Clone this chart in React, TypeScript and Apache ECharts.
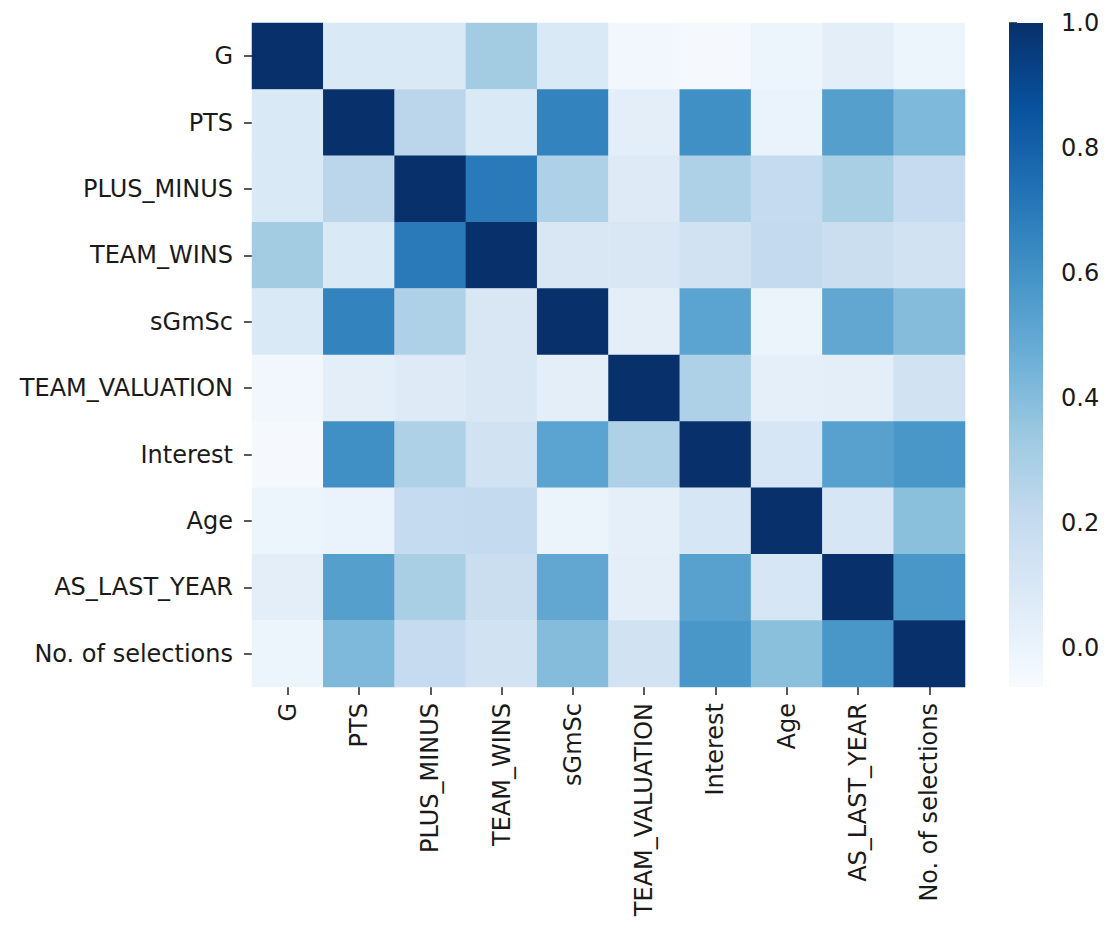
import React, { useEffect, useRef } from "react";
import * as echarts from "echarts";

const categories = [
  "G",
  "PTS",
  "PLUS_MINUS",
  "TEAM_WINS",
  "sGmSc",
  "TEAM_VALUATION",
  "Interest",
  "Age",
  "AS_LAST_YEAR",
  "No. of selections",
];

// correlation matrix rows (same order as categories)
const rowG = [1.0, 0.09, 0.09, 0.32, 0.09, -0.03, -0.05, -0.01, 0.045, -0.01];
const rowPTS = [0.09, 1.0, 0.24, 0.09, 0.66, 0.045, 0.61, 0.005, 0.54, 0.42];
const rowPM = [0.09, 0.24, 1.0, 0.7, 0.28, 0.07, 0.28, 0.205, 0.3, 0.2];
const rowTW = [0.32, 0.09, 0.7, 1.0, 0.1, 0.1, 0.14, 0.21, 0.18, 0.14];
const rowSG = [0.09, 0.66, 0.28, 0.1, 1.0, 0.045, 0.52, 0.0, 0.5, 0.4];
const rowTV = [-0.03, 0.045, 0.07, 0.1, 0.045, 1.0, 0.28, 0.04, 0.045, 0.14];
const rowInt = [-0.05, 0.61, 0.28, 0.14, 0.52, 0.28, 1.0, 0.11, 0.53, 0.58];
const rowAge = [-0.01, 0.005, 0.205, 0.21, 0.0, 0.04, 0.11, 1.0, 0.11, 0.385];
const rowAS = [0.045, 0.54, 0.3, 0.18, 0.5, 0.045, 0.53, 0.11, 1.0, 0.58];
const rowNoS = [-0.01, 0.42, 0.2, 0.14, 0.4, 0.14, 0.58, 0.385, 0.58, 1.0];

const matrix = [rowG, rowPTS, rowPM, rowTW, rowSG, rowTV, rowInt, rowAge, rowAS, rowNoS];

const colorMin = -0.063;
const colorMax = 1.0;
const colorbarTicks = [0.0, 0.2, 0.4, 0.6, 0.8, 1.0];

const blues = [
  "#f7fbff",
  "#deebf7",
  "#c6dbef",
  "#9ecae1",
  "#6baed6",
  "#4292c6",
  "#2171b5",
  "#08519c",
  "#08306b",
];

const FONT = "DejaVu Sans";
const FS = 24;

export default function App() {
  const ref = useRef<HTMLDivElement>(null);
  useEffect(() => {
    if (!ref.current) return;
    const chart = echarts.init(ref.current, null, { renderer: "svg" });
    const data: [number, number, number][] = [];
    matrix.forEach((row, yi) => {
      row.forEach((v, xi) => data.push([xi, yi, v]));
    });
    const gridL = 252, gridT = 23, gridW = 713, gridH = 664;
    const cbL = 1009, cbW = 34;
    chart.setOption({
      animation: false,
      backgroundColor: "#ffffff",
      textStyle: { fontFamily: FONT },
      grid: [
        { left: gridL, top: gridT, width: gridW, height: gridH },
        { left: cbL, top: gridT, width: cbW, height: gridH },
      ],
      xAxis: [
        {
          type: "category",
          gridIndex: 0,
          data: categories,
          position: "bottom",
          axisLine: { show: false },
          axisTick: { show: true, alignWithLabel: true, length: 8, lineStyle: { color: "#222", width: 1.5 } },
          axisLabel: { rotate: 90, margin: 16, fontSize: FS, color: "#1a1a1a", fontFamily: FONT, interval: 0 },
          splitLine: { show: false },
        },
        {
          type: "value",
          gridIndex: 1,
          show: false,
          min: 0,
          max: 1,
        },
      ],
      yAxis: [
        {
          type: "category",
          gridIndex: 0,
          data: categories,
          inverse: true,
          axisLine: { show: false },
          axisTick: { show: true, alignWithLabel: true, length: 8, lineStyle: { color: "#222", width: 1.5 } },
          axisLabel: { margin: 19, fontSize: FS, color: "#1a1a1a", fontFamily: FONT, interval: 0 },
          splitLine: { show: false },
        },
        {
          type: "value",
          gridIndex: 1,
          min: colorMin,
          max: colorMax,
          position: "right",
          axisLine: { show: false },
          splitLine: { show: false },
          axisTick: {
            show: true,
            length: 8,
            customValues: colorbarTicks,
            lineStyle: { color: "#222", width: 1.5 },
          },
          axisLabel: {
            margin: 18,
            fontSize: FS,
            color: "#1a1a1a",
            fontFamily: FONT,
            customValues: colorbarTicks,
            formatter: (v: number) => v.toFixed(1),
          },
        },
      ],
      visualMap: {
        show: false,
        type: "continuous",
        min: colorMin,
        max: colorMax,
        seriesIndex: 0,
        inRange: { color: blues },
      },
      graphic: [
        {
          type: "rect",
          shape: { x: cbL, y: gridT, width: cbW, height: gridH },
          style: {
            fill: new echarts.graphic.LinearGradient(
              0,
              0,
              0,
              1,
              blues
                .slice()
                .reverse()
                .map((c, i) => ({ offset: i / (blues.length - 1), color: c }))
            ),
          },
          z: 10,
        },
      ],
      series: [
        {
          type: "heatmap",
          xAxisIndex: 0,
          yAxisIndex: 0,
          data,
          itemStyle: { borderWidth: 0 },
          emphasis: { disabled: true },
        },
      ],
    });
    return () => chart.dispose();
  }, []);
  return (
    <div
      ref={ref}
      style={{ position: "absolute", left: 0, top: 0, width: 1112, height: 944, background: "#fff" }}
    />
  );
}
